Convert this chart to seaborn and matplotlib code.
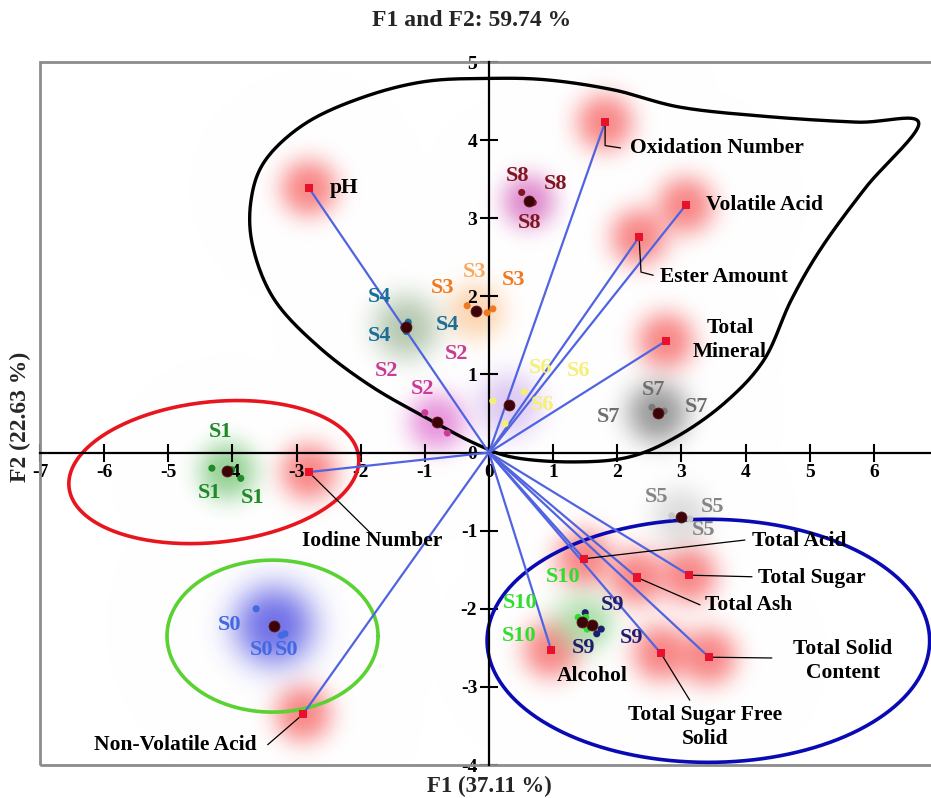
import numpy as np
import pandas as pd
import matplotlib
matplotlib.use("Agg")
import matplotlib.pyplot as plt
from matplotlib.patches import Rectangle
import seaborn as sns

# ---------------- data ----------------
# PCA variable loadings (F1, F2)
var_names = ["pH", "Oxidation Number", "Volatile Acid", "Ester Amount", "Total Mineral",
             "Iodine Number", "Total Acid", "Total Sugar", "Total Ash",
             "Total Solid Content", "Total Sugar Free Solid", "Alcohol", "Non-Volatile Acid"]
var_f1 = [-2.81, 1.81, 3.07, 2.34, 2.76, -2.81, 1.48, 3.12, 2.31, 3.43, 2.68, 0.97, -2.90]
var_f2 = [3.39, 4.23, 3.17, 2.76, 1.43, -0.25, -1.36, -1.57, -1.60, -2.62, -2.57, -2.53, -3.35]

# sample scores, three replicates per sample
groups = ["S0", "S1", "S2", "S3", "S4", "S5", "S6", "S7", "S8", "S9", "S10"]
rep_f1 = {
    "S0": [-3.63, -3.18, -3.24], "S1": [-4.32, -4.01, -3.87], "S2": [-1.00, -0.80, -0.65],
    "S3": [-0.34, -0.03, 0.06], "S4": [-1.26, -1.33, -1.29], "S5": [2.85, 3.13, 3.00],
    "S6": [0.06, 0.55, 0.25], "S7": [2.54, 2.73, 2.62], "S8": [0.51, 0.64, 0.69],
    "S9": [1.50, 1.75, 1.68], "S10": [1.39, 1.51, 1.53],
}
rep_f2 = {
    "S0": [-2.00, -2.32, -2.34], "S1": [-0.20, -0.22, -0.33], "S2": [0.51, 0.41, 0.25],
    "S3": [1.88, 1.79, 1.84], "S4": [1.67, 1.60, 1.55], "S5": [-0.81, -0.85, -0.80],
    "S6": [0.66, 0.78, 0.37], "S7": [0.58, 0.53, 0.50], "S8": [3.33, 3.24, 3.20],
    "S9": [-2.05, -2.26, -2.32], "S10": [-2.11, -2.11, -2.26],
}
# sample centroids
cen_f1 = [-3.35, -4.08, -0.81, -0.20, -1.29, 2.99, 0.31, 2.63, 0.62, 1.61, 1.45]
cen_f2 = [-2.22, -0.24, 0.39, 1.81, 1.61, -0.82, 0.61, 0.51, 3.22, -2.21, -2.17]

# ---------------- styling ----------------
sns.set_theme(style="white")
plt.rcParams["font.family"] = ["Liberation Serif", "DejaVu Serif"]
plt.rcParams["font.weight"] = "bold"
plt.rcParams["axes.unicode_minus"] = False

group_colors = {
    "S0": "#4169e1", "S1": "#1e8a28", "S2": "#c83c96", "S3": "#f07820", "S4": "#1b6e96",
    "S5": "#c8c8c8", "S6": "#f5ee78", "S7": "#7a7a7a", "S8": "#801420", "S9": "#1e1e6e",
    "S10": "#32dc32",
}
label_colors = dict(group_colors)
label_colors["S5"] = "#858585"
label_colors["S7"] = "#6e6e6e"

# glow halo colour, radius (px) and strength per sample
glow = {
    "S0": ((70, 70, 225), 42, 0.75), "S1": ((70, 175, 70), 30, 0.55),
    "S2": ((215, 70, 195), 30, 0.55), "S3": ((250, 175, 105), 30, 0.5),
    "S4": ((115, 150, 105), 34, 0.5), "S5": ((175, 175, 175), 30, 0.4),
    "S6": ((175, 125, 225), 34, 0.4), "S7": ((95, 95, 95), 32, 0.6),
    "S8": ((205, 70, 175), 28, 0.6), "S9": ((140, 200, 140), 20, 0.3),
    "S10": ((130, 210, 130), 32, 0.5),
}

# sample label positions (three per sample)
lab_pos = {
    "S0": [(-4.04, -2.21), (-3.54, -2.53), (-3.15, -2.53)],
    "S1": [(-4.19, 0.26), (-4.35, -0.52), (-3.69, -0.58)],
    "S2": [(-0.50, 1.26), (-1.59, 1.05), (-1.04, 0.82)],
    "S3": [(-0.23, 2.31), (-0.73, 2.11), (0.39, 2.21)],
    "S4": [(-1.71, 1.99), (-1.71, 1.49), (-0.65, 1.63)],
    "S5": [(2.62, -0.57), (3.49, -0.70), (3.35, -0.99)],
    "S6": [(0.80, 1.08), (1.40, 1.05), (0.83, 0.61)],
    "S7": [(2.56, 0.80), (1.87, 0.46), (3.24, 0.58)],
    "S8": [(0.44, 3.54), (1.03, 3.44), (0.64, 2.94)],
    "S9": [(1.93, -1.95), (1.48, -2.50), (2.23, -2.37)],
    "S10": [(1.15, -1.59), (0.48, -1.93), (0.47, -2.35)],
}

# variable label text, anchor, alignment and optional leader line
var_labels = {
    "pH": ("pH", (-2.48, 3.39), "left", None),
    "Oxidation Number": ("Oxidation Number", (2.20, 3.90), "left", [(1.81, 3.93), (2.05, 3.90)]),
    "Volatile Acid": ("Volatile Acid", (3.38, 3.17), "left", None),
    "Ester Amount": ("Ester Amount", (2.67, 2.25), "left", [(2.37, 2.31), (2.56, 2.27)]),
    "Total Mineral": ("Total\nMineral", (3.76, 1.44), "center", None),
    "Iodine Number": ("Iodine Number", (-1.82, -1.13), "center", [(-1.86, -1.02)]),
    "Total Acid": ("Total Acid", (4.10, -1.13), "left", [(3.99, -1.12)]),
    "Total Sugar": ("Total Sugar", (4.19, -1.61), "left", [(4.10, -1.59)]),
    "Total Ash": ("Total Ash", (3.37, -1.95), "left", [(3.29, -1.95)]),
    "Total Solid Content": ("Total Solid\nContent", (5.52, -2.67), "center", [(4.41, -2.63)]),
    "Total Sugar Free Solid": ("Total Sugar Free\nSolid", (3.37, -3.51), "center", [(3.13, -3.17)]),
    "Alcohol": ("Alcohol", (1.61, -2.86), "center", None),
    "Non-Volatile Acid": ("Non-Volatile Acid", (-3.63, -3.75), "right", [(-3.45, -3.74)]),
}

# ---------------- figure ----------------
W, H = 931, 798
fig = plt.figure(figsize=(W / 100, H / 100), dpi=100)
ax_l, ax_b, ax_w, ax_h = 40, 33, 898, 703
ax = fig.add_axes([ax_l / W, ax_b / H, ax_w / W, ax_h / H])
XL, YL = (-7, 7), (-4, 5)
ax.set_xlim(*XL)
ax.set_ylim(*YL)
PX = ax_w / (XL[1] - XL[0])
PY = ax_h / (YL[1] - YL[0])

# soft coloured halos behind the marks
gx = np.linspace(XL[0], XL[1], 900)
gy = np.linspace(YL[0], YL[1], 700)
GX, GY = np.meshgrid(gx, gy)
img = np.ones((len(gy), len(gx), 3))


def add_glow(cx, cy, rgb, radius, peak):
    d = np.sqrt(((GX - cx) * PX) ** 2 + ((GY - cy) * PY) ** 2)
    a = (peak * np.exp(-(d / radius) ** 2.6))[..., None]
    img[:] = img * (1 - a) + (np.array(rgb) / 255.0) * a


for fx, fy in zip(var_f1, var_f2):
    add_glow(fx, fy, (245, 70, 70), 30, 0.62)
for g, cx, cy in zip(groups, cen_f1, cen_f2):
    rgb, r, p = glow[g]
    add_glow(cx, cy, rgb, r, p)

ax.imshow(np.clip(img, 0, 1), extent=(XL[0], XL[1], YL[0], YL[1]), origin="lower",
          aspect="auto", zorder=0, interpolation="bilinear")


def ellipse(cx, cy, rx, ry, ang=0.0, n=300):
    t = np.linspace(0, 2 * np.pi, n)
    ex, ey = rx * PX * np.cos(t), ry * PY * np.sin(t)
    a = np.deg2rad(ang)
    xr = ex * np.cos(a) - ey * np.sin(a)
    yr = ex * np.sin(a) + ey * np.cos(a)
    return cx + xr / PX, cy + yr / PY


def closed_spline(pts, n=24):
    P = np.asarray(pts)
    N = len(P)
    t = np.linspace(0, 1, n, endpoint=False)[:, None]
    out = []
    for i in range(N):
        p0, p1, p2, p3 = P[i - 1], P[i], P[(i + 1) % N], P[(i + 2) % N]
        out.append(0.5 * (2 * p1 + (-p0 + p2) * t + (2 * p0 - 5 * p1 + 4 * p2 - p3) * t ** 2
                          + (-p0 + 3 * p1 - 3 * p2 + p3) * t ** 3))
    out = np.vstack(out + [out[0][:1]])
    return out[:, 0], out[:, 1]


# grouping outlines
ex, ey = ellipse(-4.29, -0.25, 2.27, 0.90, 6)
ax.plot(ex, ey, color="#e8141e", lw=2.6, zorder=2)
ex, ey = ellipse(-3.375, -2.35, 1.645, 0.973)
ax.plot(ex, ey, color="#5ad232", lw=2.6, zorder=2)
ex, ey = ellipse(3.42, -2.41, 3.45, 1.556)
ax.plot(ex, ey, color="#0a0ab4", lw=2.6, zorder=2)

outline = [(0, 4.79), (-1.0, 4.75), (-1.96, 4.55), (-2.85, 4.22), (-3.48, 3.75), (-3.71, 3.23),
           (-3.68, 2.63), (-3.34, 1.95), (-2.65, 1.35), (-1.82, 0.84), (-0.92, 0.42),
           (-0.23, 0.12), (0.37, -0.06), (1.28, -0.12), (2.17, -0.06), (2.92, 0.20),
           (3.68, 0.64), (4.29, 1.19), (4.71, 1.95), (5.19, 2.63), (5.88, 3.40), (6.70, 4.22),
           (5.74, 4.23), (4.36, 4.30), (2.99, 4.42), (1.96, 4.64), (0.92, 4.77)]
sx, sy = closed_spline(outline)
ax.plot(sx, sy, color="black", lw=2.4, zorder=2)

# loading vectors
for fx, fy in zip(var_f1, var_f2):
    ax.plot([0, fx], [0, fy], color="#5064e1", lw=1.6, zorder=3)

# leader lines and variable labels
for name, fx, fy in zip(var_names, var_f1, var_f2):
    text, (lx, ly), ha, leader = var_labels[name]
    if leader:
        xs = [fx] + [p[0] for p in leader]
        ys = [fy] + [p[1] for p in leader]
        ax.plot(xs, ys, color="black", lw=0.9, zorder=3)
    ax.text(lx, ly, text, ha=ha, va="center", fontsize=15.5, fontweight="bold",
            color="black", zorder=6, linespacing=1.25)

vdf = pd.DataFrame({"F1": var_f1, "F2": var_f2, "variable": var_names})
sns.scatterplot(data=vdf, x="F1", y="F2", marker="s", color="#e8102a", s=34,
                edgecolor="none", ax=ax, zorder=5, legend=False)

# sample replicates and centroids
rows = []
for g in groups:
    for a, b in zip(rep_f1[g], rep_f2[g]):
        rows.append({"F1": a, "F2": b, "sample": g})
sdf = pd.DataFrame(rows)
sns.scatterplot(data=sdf, x="F1", y="F2", hue="sample", palette=group_colors, s=26,
                edgecolor="none", ax=ax, zorder=4, legend=False)
cdf = pd.DataFrame({"F1": cen_f1, "F2": cen_f2, "sample": groups})
sns.scatterplot(data=cdf, x="F1", y="F2", color="#3c0408", s=62, edgecolor="#5a1a1a",
                linewidth=0.6, ax=ax, zorder=5, legend=False)

for g in groups:
    for i, (lx, ly) in enumerate(lab_pos[g]):
        c = label_colors[g]
        if g == "S3" and i == 0:
            c = "#f5aa64"
        ax.text(lx, ly, g, ha="center", va="center", fontsize=16, fontweight="bold",
                color=c, zorder=6)

# axes crossing at the origin, framed by a grey border
for s in ["top", "right"]:
    ax.spines[s].set_visible(False)
ax.spines["left"].set_position(("data", 0))
ax.spines["bottom"].set_position(("data", 0))
for s in ["left", "bottom"]:
    ax.spines[s].set_color("black")
    ax.spines[s].set_linewidth(1.6)
    ax.spines[s].set_zorder(2.5)
ax.set_xticks(range(-7, 7))
ax.set_yticks(range(-4, 6))
ax.tick_params(axis="both", which="major", direction="inout", length=13, width=1.5,
               color="black", labelsize=14, labelcolor="black", bottom=True, left=True, pad=2)
for lab in ax.get_xticklabels() + ax.get_yticklabels():
    lab.set_fontweight("bold")
ax.set_xlabel("")
ax.set_ylabel("")
ax.add_patch(Rectangle((0, 0), 1, 1, transform=ax.transAxes, fill=False,
                       edgecolor="#8c8c8c", lw=2.0, clip_on=False, zorder=1))

fig.text(472 / W, 1 - 20 / H, "F1 and F2: 59.74 %", ha="center", va="center",
         fontsize=17, fontweight="bold")
fig.text(489 / W, 1 - 786 / H, "F1 (37.11 %)", ha="center", va="center",
         fontsize=16.5, fontweight="bold")
fig.text(20 / W, 1 - 417 / H, "F2 (22.63 %)", ha="center", va="center", rotation=90,
         fontsize=17, fontweight="bold")

fig.savefig("out.png", dpi=100)
